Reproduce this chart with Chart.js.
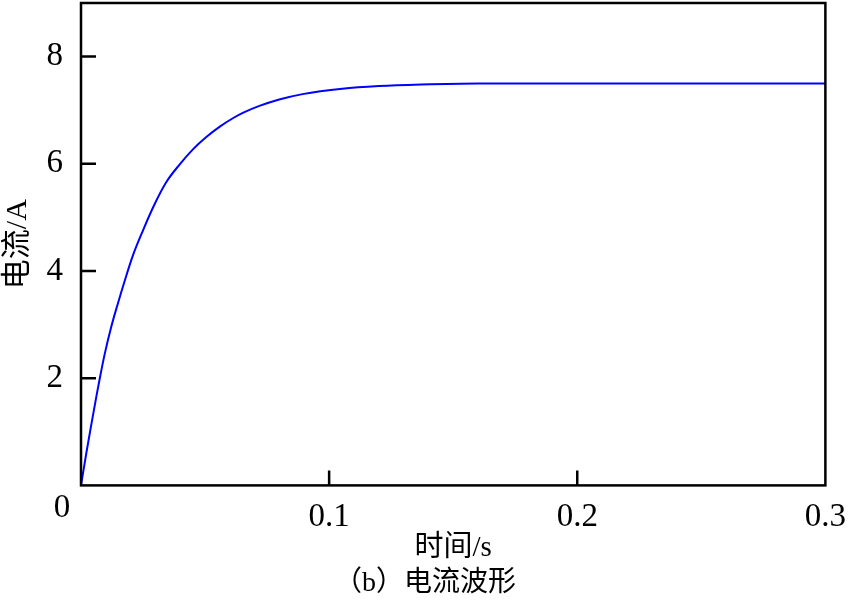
<!DOCTYPE html>
<html lang="zh">
<head>
    <meta charset="UTF-8">
    <title>电流波形</title>
    <script src="https://cdn.jsdelivr.net/npm/chart.js"></script>
    <style>
        body { margin: 0; background: #fff; }
        #wrap { width: 850px; height: 602px; }
    </style>
</head>
<body>
    <div id="wrap"><canvas id="currentChart" width="850" height="602"></canvas></div>

    <script>
        // tiempo (s) y corriente (A)
        const tiempo = [0, 0.0021, 0.0041, 0.0062, 0.0075, 0.0095, 0.0122, 0.0149, 0.0175, 0.0210,
                        0.0250, 0.0297, 0.0344, 0.0398, 0.0451, 0.0505, 0.0558, 0.0612, 0.0652, 0.0719,
                        0.0799, 0.0893, 0.1053, 0.120, 0.137, 0.160, 0.200, 0.250, 0.300];
        const corriente = [0, 0.59, 1.12, 1.66, 1.98, 2.44, 2.96, 3.40, 3.80, 4.30,
                           4.76, 5.25, 5.66, 5.99, 6.27, 6.50, 6.69, 6.85, 6.95, 7.08,
                           7.20, 7.30, 7.40, 7.45, 7.48, 7.50, 7.50, 7.50, 7.50];
        const xTicks = [0, 0.1, 0.2, 0.3];
        const yTicks = [0, 2, 4, 6, 8];

        const serif = '"Liberation Serif", "Noto Sans CJK SC", serif';

        // marco y marcas hacia dentro
        const framePlugin = {
            id: 'frame',
            afterDraw(chart) {
                const ctx = chart.ctx;
                const a = chart.chartArea;
                const xs = chart.scales.x, ys = chart.scales.y;
                ctx.save();
                ctx.strokeStyle = '#000';
                ctx.lineWidth = 2.5;
                ctx.strokeRect(a.left, a.top, a.right - a.left, a.bottom - a.top);
                ctx.beginPath();
                yTicks.forEach(v => {
                    if (v === 0) return;
                    const py = ys.getPixelForValue(v);
                    ctx.moveTo(a.left, py);
                    ctx.lineTo(a.left + 15, py);
                });
                xTicks.forEach(v => {
                    if (v === 0 || v === 0.3) return;
                    const px = xs.getPixelForValue(v);
                    ctx.moveTo(px, a.bottom);
                    ctx.lineTo(px, a.bottom - 15);
                });
                ctx.stroke();
                // el "0" de la esquina
                ctx.fillStyle = '#000';
                ctx.font = '33px ' + serif;
                ctx.textAlign = 'center';
                ctx.textBaseline = 'middle';
                ctx.fillText('0', a.left - 19, a.bottom + 23);
                ctx.restore();
            }
        };

        const ctx = document.getElementById('currentChart').getContext('2d');
        new Chart(ctx, {
            type: 'line',
            data: {
                datasets: [{
                    label: '电流',
                    data: tiempo.map((t, i) => ({ x: t, y: corriente[i] })),
                    borderColor: '#0000ff',
                    borderWidth: 2,
                    pointRadius: 0,
                    cubicInterpolationMode: 'monotone',
                    fill: false
                }]
            },
            options: {
                responsive: false,
                animation: false,
                layout: { padding: { left: 0, right: 0, top: 3, bottom: 2 } },
                plugins: {
                    legend: { display: false },
                    tooltip: { enabled: false },
                    title: {
                        display: true,
                        position: 'bottom',
                        text: '（b）电流波形',
                        color: '#000',
                        font: { family: serif, size: 28, weight: 'normal' },
                        padding: { top: 0, bottom: 0 }
                    }
                },
                scales: {
                    x: {
                        type: 'linear',
                        min: 0,
                        max: 0.3,
                        afterBuildTicks: s => { s.ticks = xTicks.map(v => ({ value: v })); },
                        afterFit: s => { s.height = 81; s.paddingLeft = 0; },
                        grid: { display: false },
                        border: { display: false },
                        ticks: {
                            color: '#000',
                            padding: 4,
                            maxRotation: 0,
                            font: { family: serif, size: 33 },
                            callback: v => (v === 0 ? '' : String(v))
                        },
                        title: {
                            display: true,
                            text: '时间/s',
                            color: '#000',
                            font: { family: serif, size: 29 },
                            padding: { top: 2, bottom: 1 }
                        }
                    },
                    y: {
                        min: 0,
                        max: 9,
                        afterBuildTicks: s => { s.ticks = yTicks.map(v => ({ value: v })); },
                        afterFit: s => { s.width = 81; s.paddingTop = 0; s.paddingBottom = 0; },
                        grid: { display: false },
                        border: { display: false },
                        ticks: {
                            color: '#000',
                            padding: 10,
                            font: { family: serif, size: 33 },
                            callback: v => (v === 0 ? '' : String(v))
                        },
                        title: {
                            display: true,
                            text: '电流/A',
                            color: '#000',
                            font: { family: serif, size: 30 },
                            padding: { top: 0, bottom: 0 }
                        }
                    }
                }
            },
            plugins: [framePlugin]
        });
    </script>
</body>
</html>
